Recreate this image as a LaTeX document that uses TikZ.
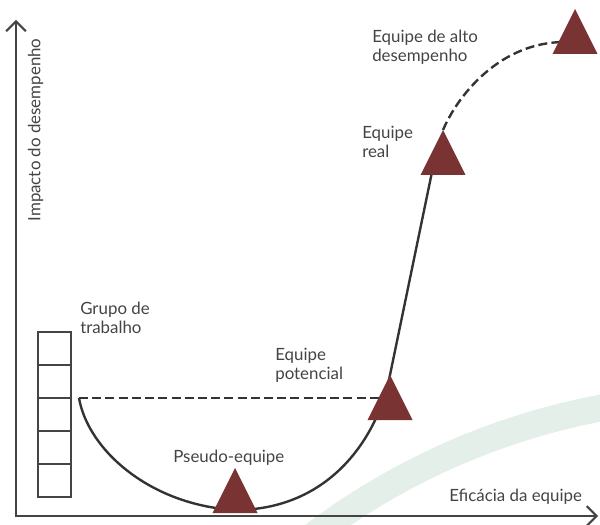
\documentclass[tikz,border=0pt]{standalone}
\usepackage{fontspec}
\setmainfont{Lato}
\usepackage{xcolor}
\usetikzlibrary{
  arrows.meta,
  positioning,
  calc
}
\definecolor{vinho}{HTML}{7A3333}
\definecolor{cinza}{HTML}{444444}
\definecolor{verdeclaro}{HTML}{E3EFE8}

\newcommand{\marco}[1]{\fill[vinho] (#1) -- ++(-\meia,\alt) -- ++({2*\meia},0) -- cycle;}

\begin{document}
\begin{tikzpicture}[
      x=0.025cm, y=-0.025cm,
      >={Straight Barb[length=7pt,width=14pt]},
      eixo/.style={<->, line width=1.5pt, cinza},
      rotulo/.style={anchor=north west, inner sep=0pt, align=left, text=cinza,
                     font=\fontsize{12}{13.5}\selectfont},
      bloco/.style={draw=cinza, line width=1.8pt, minimum width=0.825cm,
                    minimum height=0.825cm, inner sep=0pt},
      curva/.style={line width=1.7pt, black!80},
      tracejado/.style={curva, dash pattern=on 6.4pt off 3pt}
  ]
      \def\meia{22.5}
      \def\alt{45}
      \useasboundingbox (0,0) rectangle (600,525);

      % --- FAIXA DE FUNDO ---
      \begin{scope}
          \clip (0,0) rectangle (600,525);
          \draw[verdeclaro, line width=19pt] (729,1085) ++(225:689) arc (225:275:689);
      \end{scope}

      % --- EIXOS ---
      \coordinate (origem) at (16,516);
      \coordinate (topo) at (16,20);
      \coordinate (fim) at (598,516);
      \draw[eixo] (topo) -- (origem) -- (fim);
      \node[rotulo, anchor=center, rotate=90] (impacto) at (35.5,130) {Impacto do desempenho};
      \node[rotulo] (eficacia) at (449,489) {Eficácia da equipe};

      % --- GRUPO DE TRABALHO ---
      \foreach \i in {1,...,5}
          \node[bloco] (b\i) at (54.5,{332+33*(\i-0.5)}) {};
      \node[rotulo] (grupo) at (80,302) {Grupo de\\trabalho};

      % --- CURVA ---
      \coordinate (inicio)     at (79,398);
      \coordinate (fundo)      at (235,510);
      \coordinate (tpseudo)    at (235,468);
      \coordinate (tpotencial) at (390,375);
      \coordinate (treal)      at (443,130);
      \coordinate (talto)      at (575,9);
      \draw[tracejado] (inicio) -- (inicio -| tpotencial);
      \draw[curva] (inicio) .. controls (88,450) and (150,505) .. (fundo)
          .. controls (330,510) and (378,437) .. (tpotencial) -- (432,172);
      \draw[tracejado] (treal) .. controls (458,95) and (500,42) .. (565,42);

      % --- MARCOS ---
      \marco{tpseudo} \marco{tpotencial} \marco{treal} \marco{talto}
      \node[rotulo] (pseudo)    at (173,450) {Pseudo-equipe};
      \node[rotulo] (potencial) at (275,348) {Equipe\\potencial};
      \node[rotulo] (real)      at (362,126) {Equipe\\real};
      \node[rotulo] (alto)      at (372,30)  {Equipe de alto\\desempenho};

\end{tikzpicture}
\end{document}
